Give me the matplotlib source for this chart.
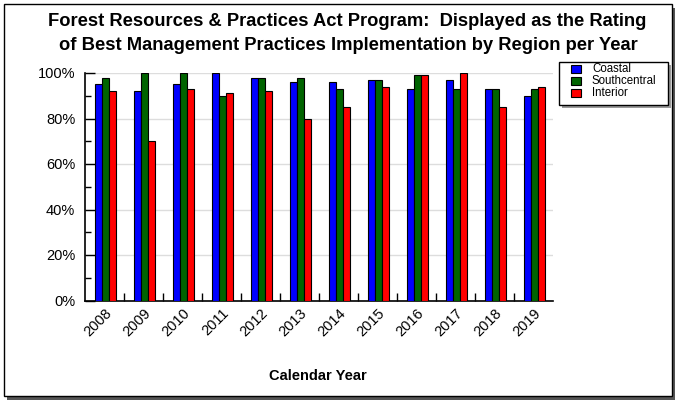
import numpy as np
import matplotlib.pyplot as plt
from matplotlib.patches import Rectangle
from matplotlib.ticker import PercentFormatter, MultipleLocator

plt.rcParams['font.family'] = ['Liberation Sans', 'DejaVu Sans']

years = ['2008', '2009', '2010', '2011', '2012', '2013',
         '2014', '2015', '2016', '2017', '2018', '2019']
coastal = [95, 92, 95, 100, 98, 96, 96, 97, 93, 97, 93, 90]
southcentral = [98, 100, 100, 90, 98, 98, 93, 97, 99, 93, 93, 93]
interior = [92, 70, 93, 91, 92, 80, 85, 94, 99, 100, 85, 94]

names = ['Coastal', 'Southcentral', 'Interior']
colors = ['#0000ff', '#006400', '#ff0000']
series = [coastal, southcentral, interior]

W, H = 678, 401
fig = plt.figure(figsize=(W / 100, H / 100), dpi=100)

def px_rect(x0, y0, w, h, **kw):
    # rectangle given in pixels from top-left
    r = Rectangle((x0 / W, 1 - (y0 + h) / H), w / W, h / H,
                  transform=fig.transFigure, **kw)
    fig.patches.append(r)
    return r

# outer frame with drop shadow
px_rect(7, 8, 668, 392, facecolor='#555555', edgecolor='none', zorder=0)
px_rect(4, 4, 668, 392, facecolor='white', edgecolor='black', linewidth=1, zorder=1)

ax = fig.add_axes([85 / W, 1 - 300.5 / H, 468 / W, 227.5 / H])
ax.set_zorder(2)

x = np.arange(len(years))
bw = 7 / 39
for k, vals in enumerate(series):
    ax.bar(x + (k - 1) * bw + 0.02, np.array(vals) / 100, width=bw, color=colors[k],
           edgecolor='black', linewidth=0.8, zorder=3)

ax.set_xlim(-0.5, len(years) - 0.5)
ax.set_ylim(0, 1)
ax.yaxis.set_major_locator(MultipleLocator(0.2))
ax.yaxis.set_minor_locator(MultipleLocator(0.1))
ax.yaxis.set_major_formatter(PercentFormatter(1.0, decimals=0))
ax.grid(axis='y', which='major', color='#dddddd', linewidth=1, zorder=0)

ax.set_xticks(x)
ax.set_xticklabels(years, rotation=45, ha='right', rotation_mode='anchor')
ax.set_xticks(x[:-1] + 0.5, minor=True)
ax.tick_params(axis='x', which='major', length=0, pad=4, labelsize=10.5)
ax.tick_params(axis='x', which='minor', direction='in', length=6, width=1)
ax.tick_params(axis='y', which='major', direction='in', length=7, width=1,
               pad=7, labelsize=10.5)
ax.tick_params(axis='y', which='minor', direction='in', length=4, width=1)

for s in ['top', 'right']:
    ax.spines[s].set_visible(False)
for s in ['left', 'bottom']:
    ax.spines[s].set_linewidth(1.2)

fig.text(0.512, 1 - 22 / H,
         'Forest Resources & Practices Act Program:  Displayed as the Rating',
         ha='center', va='center', fontsize=13.2, fontweight='bold')
fig.text(0.514, 1 - 46 / H,
         'of Best Management Practices Implementation by Region per Year',
         ha='center', va='center', fontsize=13.2, fontweight='bold')
fig.text(318 / W, 1 - 376 / H, 'Calendar Year', ha='center', va='center',
         fontsize=10.5, fontweight='bold')

# legend box drawn by hand, pixel layout
px_rect(562, 65, 109, 43, facecolor='#999999', edgecolor='none', zorder=3)
px_rect(559, 62, 109, 43, facecolor='white', edgecolor='black', linewidth=1, zorder=4)
for k, name in enumerate(names):
    yc = 69 + k * 12
    px_rect(571, yc - 4, 10, 8, facecolor=colors[k], edgecolor='black',
            linewidth=0.8, zorder=5)
    fig.text(592 / W, 1 - yc / H, name, ha='left', va='center', fontsize=8.3,
             zorder=6)

fig.savefig('out.png', dpi=100)
